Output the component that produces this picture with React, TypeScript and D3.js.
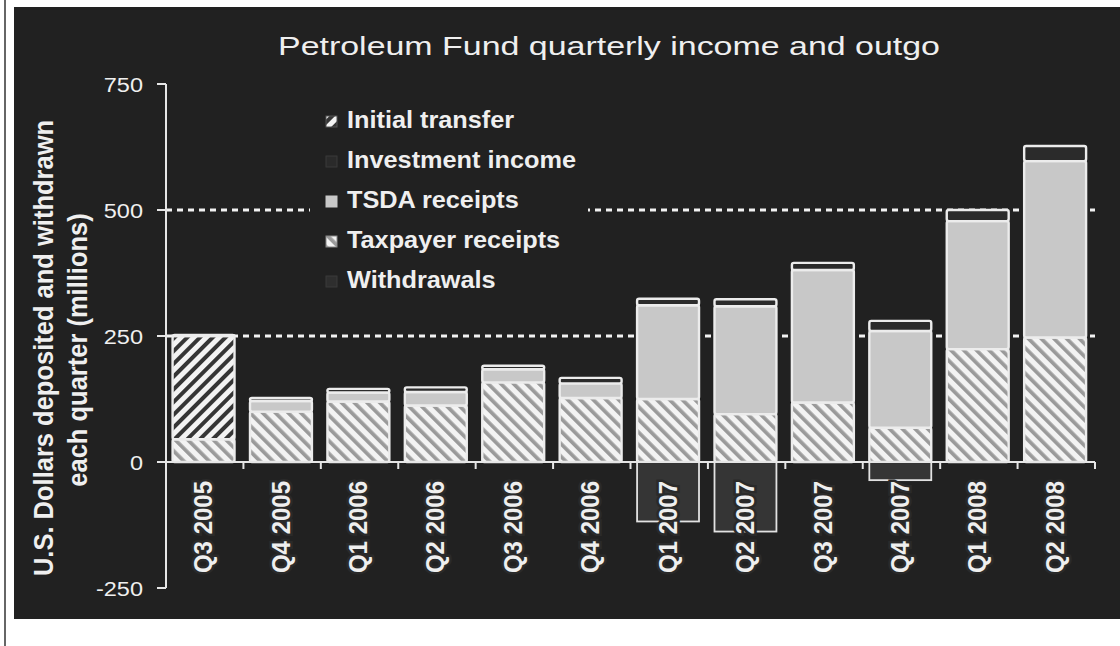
import React from "react";
import * as d3 from "d3";

// quarterly data, millions of US dollars
const quarters = [
  "Q3 2005", "Q4 2005", "Q1 2006", "Q2 2006", "Q3 2006", "Q4 2006",
  "Q1 2007", "Q2 2007", "Q3 2007", "Q4 2007", "Q1 2008", "Q2 2008",
];
const taxpayerReceipts = [45, 100, 120, 112, 158, 127, 125, 95, 118, 68, 224, 247];
const initialTransfer = [205, 0, 0, 0, 0, 0, 0, 0, 0, 0, 0, 0];
const tsdaReceipts = [0, 21, 18, 27, 26, 29, 186, 214, 263, 192, 254, 350];
const investmentIncome = [2, 6, 7, 9, 7, 11, 13, 14, 14, 20, 22, 30];
const withdrawals = [0, 0, 0, 0, 0, 0, -118, -138, 0, -36, 0, 0];

const yTicks = [750, 500, 250, 0, -250];
const gridValues = [250, 500];

const legendItems = [
  { label: "Initial transfer", fill: "url(#hatchInit)", stroke: "#555" },
  { label: "Investment income", fill: "#2a2a2a", stroke: "#3a3a3a" },
  { label: "TSDA receipts", fill: "#c8c8c8", stroke: "#c8c8c8" },
  { label: "Taxpayer receipts", fill: "url(#hatchTax)", stroke: "#888" },
  { label: "Withdrawals", fill: "#2e2e2e", stroke: "#3a3a3a" },
];

const keys = ["taxpayer", "initial", "tsda", "investment"];
const segFill: Record<string, string> = {
  taxpayer: "url(#hatchTax)",
  initial: "url(#hatchInit)",
  tsda: "#c8c8c8",
  investment: "#2b2b2b",
};

const table = quarters.map((q, i) => ({
  quarter: q,
  taxpayer: taxpayerReceipts[i],
  initial: initialTransfer[i],
  tsda: tsdaReceipts[i],
  investment: investmentIncome[i],
  withdrawal: withdrawals[i],
}));

const font = "'Liberation Sans', Arial, sans-serif";
const ink = "#efefef";

const App = () => {
  const x = d3.scaleBand().domain(quarters).range([166, 1095]).padding(0);
  const y = d3.scaleLinear().domain([-250, 750]).range([588, 84]);
  const step = x.bandwidth();
  const bw = step * 0.8;
  const bx = (q: string) => (x(q) as number) + step * 0.085;

  const series = d3.stack<any>().keys(keys)(table);

  return (
    <svg
      width={1120}
      height={646}
      style={{ position: "absolute", left: 0, top: 0, background: "#fff" }}
    >
      <defs>
        <pattern id="hatchTax" patternUnits="userSpaceOnUse" width={9} height={9} patternTransform="rotate(-45)">
          <rect width={9} height={9} fill="#f3f3f3" />
          <rect width={3.7} height={9} fill="#9a9a9a" />
        </pattern>
        <pattern id="hatchInit" patternUnits="userSpaceOnUse" width={9} height={9} patternTransform="rotate(45)">
          <rect width={9} height={9} fill="#f3f3f3" />
          <rect width={4} height={9} fill="#353535" />
        </pattern>
      </defs>

      {/* page edge + dark panel */}
      <line x1={5} x2={5} y1={0} y2={646} stroke="#333" strokeWidth={1.5} />
      <rect x={14} y={7} width={1106} height={612} fill="#212121" />

      {/* title */}
      <text
        x={609}
        y={55}
        textAnchor="middle"
        fontFamily={font}
        fontSize={26.5}
        fill={ink}
        textLength={662}
        lengthAdjust="spacingAndGlyphs"
      >
        Petroleum Fund quarterly income and outgo
      </text>

      {/* gridlines */}
      {gridValues.map((v) => (
        <line
          key={v}
          x1={166}
          x2={1095}
          y1={y(v)}
          y2={y(v)}
          stroke="#f2f2f2"
          strokeWidth={2.8}
          strokeDasharray="6 5"
        />
      ))}

      {/* legend (its box hides the gridline) */}
      <rect x={310} y={98} width={278} height={205} fill="#212121" />
      {legendItems.map((d, i) => {
        const base = 128 + i * 40;
        return (
          <g key={d.label}>
            <rect x={326} y={base - 12} width={11} height={11} fill={d.fill} stroke={d.stroke} strokeWidth={1} />
            <g transform={`translate(347,${base}) scale(1.1,1)`}>
              <text fontFamily={font} fontWeight="bold" fontSize={23} fill={ink}>
                {d.label}
              </text>
            </g>
          </g>
        );
      })}

      {/* stacked positive bars */}
      {series.map((s) =>
        s.map((d: any, i: number) => {
          const h = y(d[0]) - y(d[1]);
          if (h <= 0) return null;
          return (
            <rect
              key={s.key + i}
              x={bx(quarters[i])}
              y={y(d[1])}
              width={bw}
              height={h}
              rx={2}
              fill={segFill[s.key]}
              stroke="#ececec"
              strokeWidth={2.4}
            />
          );
        })
      )}

      {/* withdrawals */}
      {table.map((d) =>
        d.withdrawal < 0 ? (
          <rect
            key={"w" + d.quarter}
            x={bx(d.quarter)}
            y={y(0)}
            width={bw}
            height={y(d.withdrawal) - y(0)}
            fill="#353535"
            stroke="#e2e2e2"
            strokeWidth={1.8}
          />
        ) : null
      )}

      {/* x axis */}
      <line x1={166} x2={1095} y1={y(0)} y2={y(0)} stroke="#e6e6e6" strokeWidth={2} />
      {quarters.map((q) => (
        <line
          key={"t" + q}
          x1={(x(q) as number) + step}
          x2={(x(q) as number) + step}
          y1={y(0)}
          y2={y(0) + 7}
          stroke="#e6e6e6"
          strokeWidth={2}
        />
      ))}
      {quarters.map((q) => (
        <g key={"l" + q} transform={`translate(${(x(q) as number) + step / 2 - 2},481) scale(1.1,1) rotate(-90)`}>
          <text
            textAnchor="end"
            dy="0.36em"
            fontFamily={font}
            fontWeight="bold"
            fontSize={24}
            fill={ink}
            stroke="#2a2a2a"
            strokeWidth={5}
            style={{ paintOrder: "stroke" }}
          >
            {q}
          </text>
        </g>
      ))}

      {/* y axis */}
      <line x1={166} x2={166} y1={y(750)} y2={y(-250)} stroke="#e6e6e6" strokeWidth={2} />
      {yTicks.map((t) => (
        <g key={"y" + t}>
          <line x1={157} x2={166} y1={y(t)} y2={y(t)} stroke="#e6e6e6" strokeWidth={2} />
          <g transform={`translate(143,${y(t)}) scale(1.12,1)`}>
            <text textAnchor="end" dy="0.36em" fontFamily={font} fontSize={21} fill={ink}>
              {t}
            </text>
          </g>
        </g>
      ))}

      {/* y axis title */}
      <g transform={`translate(53,348) scale(1.1,1) rotate(-90)`}>
        <text textAnchor="middle" fontFamily={font} fontWeight="bold" fontSize={25.5} fill={ink}>
          U.S. Dollars deposited and withdrawn
        </text>
      </g>
      <g transform={`translate(87,350) scale(1.1,1) rotate(-90)`}>
        <text textAnchor="middle" fontFamily={font} fontWeight="bold" fontSize={25.5} fill={ink}>
          each quarter (millions)
        </text>
      </g>
    </svg>
  );
};

export default App;
